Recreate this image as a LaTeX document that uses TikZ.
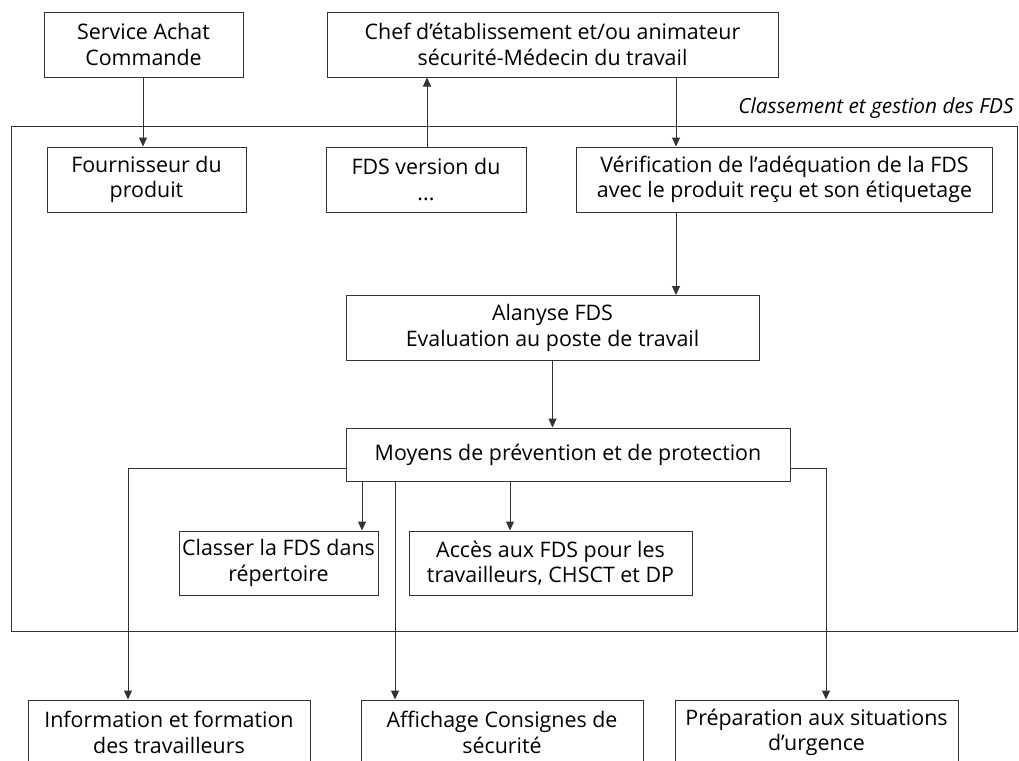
\documentclass[tikz,border=0pt]{standalone}
\usepackage{fontspec}
\setmainfont{Open Sans}
\usepackage{tikz}
\usetikzlibrary{calc,arrows.meta,positioning}
\definecolor{linegrey}{gray}{0.2}

\begin{document}
\begin{tikzpicture}[x=0.5pt,y=-0.5pt,font=\fontsize{10.7}{12.8}\selectfont]

\tikzset{box/.style={draw=linegrey,line width=0.5pt,align=center,inner sep=0pt,minimum height=32.5pt},
arr/.style={draw=linegrey,line width=0.5pt,-{Triangle[length=4.5pt,width=4pt]}},
line/.style={draw=linegrey,line width=0.5pt}}

\clip (0,0) rectangle (1019,761);

% Frame
\draw[line] (11,126) rectangle (1017,631);
\node[anchor=south east,inner sep=0pt,font=\fontsize{10.4}{12.8}\selectfont\itshape] (frameLabel) at (1014,119) {Classement et gestion des FDS};

% top nodes
\node[box,minimum width=99.5pt] (achat) at (143.5,44.5) {Service Achat\\Commande};
\node[box,minimum width=225.5pt] (chef) at (552.5,44.5) {Chef d’établissement et/ou animateur\\sécurité-Médecin du travail};

% nodes inside the frame
\node[box,minimum width=99.5pt] (fournisseur) at (146.5,179.5) {Fournisseur du\\produit};
\node[box,minimum width=100pt] (version) at (426,179.5) {FDS version du\\...};
\node[box,minimum width=208pt] (verif) at (784.5,179.5) {Vérification de l’adéquation de la FDS\\avec le produit reçu et son étiquetage};
\node[box,minimum width=206.5pt] (analyse) at (552.5,328) {Alanyse FDS\\Evaluation au poste de travail};
\node[box,minimum width=222pt,minimum height=26.5pt] (moyens) at (568,454.5) {Moyens de prévention et de protection};
\node[box,minimum width=99.5pt,minimum height=32pt] (classer) at (278.5,563) {Classer la FDS dans\\répertoire};
\node[box,minimum width=141.5pt,minimum height=32pt] (acces) at (550.5,563) {Accès aux FDS pour les\\travailleurs, CHSCT et DP};

% bottom nodes
\node[box,minimum width=141pt] (info) at (169,732.5) {Information et formation\\des travailleurs};
\node[box,minimum width=141pt] (affichage) at (502,732.5) {Affichage Consignes de\\sécurité};
\node[box,minimum width=141.5pt] (prep) at (816.5,732.5) {Préparation aux situations\\d’urgence};

% arrows at the top
\draw[arr] (achat.south -| 143,0) -- (fournisseur.north -| 143,0);
\draw[arr] (version.north -| 427,0) -- (chef.south -| 427,0);
\draw[arr] (chef.south -| 676,0) -- (verif.north -| 676,0);
\draw[arr] (verif.south -| 676,0) -- (analyse.north -| 676,0);
\draw[arr] (analyse.south) -- (analyse.south |- moyens.north);

% arrows out of moyens
\draw[arr] ($(moyens.west)+(0,13.5)$) -| (info.north -| 128,0);
\draw[arr] ($(moyens.east)+(0,13.5)$) -| (prep.north -| 826,0);
\foreach \x/\n in {362/classer,395/affichage,510/acces}
  \draw[arr] (moyens.south -| \x,0) -- (\n.north -| \x,0);

\end{tikzpicture}
\end{document}
